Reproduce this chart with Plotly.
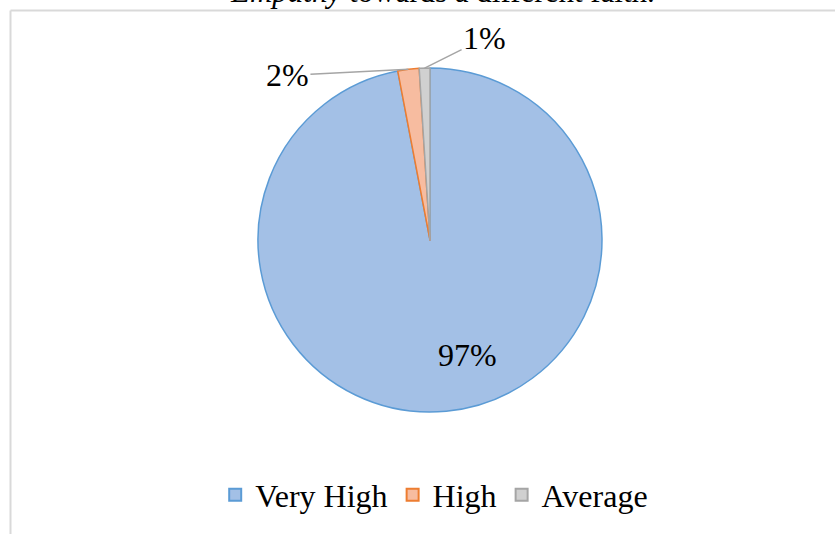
import math
import plotly.graph_objects as go

# ---- data ----
categories = ["Very High", "High", "Average"]
values = [97, 2, 1]
fill_colors = ["#a3c0e6", "#f7bca0", "#d0d0d0"]
line_colors = ["#5b9bd5", "#ed7d31", "#a5a5a5"]
caption_text = "<i>Empathy</i> towards a different faith."

W, H = 835, 534
FONT = "Liberation Serif, Times New Roman, serif"

# pie geometry (pixels)
cx, cy, R = 430, 240, 172
dom_x = [(cx - R) / W, (cx + R) / W]
dom_y = [1 - (cy + R) / H, 1 - (cy - R) / H]

fig = go.Figure()
fig.add_trace(go.Pie(
    labels=categories,
    values=values,
    sort=False,
    direction="clockwise",
    rotation=0,
    textinfo="none",
    hoverinfo="label+percent",
    marker=dict(colors=fill_colors, line=dict(color=line_colors, width=1.5)),
    domain=dict(x=dom_x, y=dom_y),
    showlegend=True,
))

# label placement derived from slice angles
total = sum(values)
cum = 0
annotations = []
label_style = [
    dict(inside=True, r=0.67, xshift=27),
    dict(inside=False, ax=-121, ay=6),
    dict(inside=False, ax=60, ay=-30),
]
for v, st in zip(values, label_style):
    mid = (cum + v / 2) / total * 2 * math.pi
    cum += v
    txt = f"{round(v / total * 100)}%"
    if st["inside"]:
        px = cx + R * st["r"] * math.sin(mid)
        py = cy - R * st["r"] * math.cos(mid)
        annotations.append(dict(
            x=px / W, y=1 - py / H, xref="paper", yref="paper",
            text=txt, showarrow=False, xshift=st["xshift"],
            font=dict(family=FONT, size=32, color="#000000"),
        ))
    else:
        px = cx + R * math.sin(mid)
        py = cy - R * math.cos(mid)
        annotations.append(dict(
            x=px / W, y=1 - py / H, xref="paper", yref="paper",
            text=txt, showarrow=True, arrowhead=0, arrowwidth=1.5,
            arrowcolor="#a5a5a5", ax=st["ax"], ay=st["ay"],
            font=dict(family=FONT, size=32, color="#000000"),
        ))

# clipped caption at the top of the page
annotations.append(dict(
    x=657 / W, y=1, xref="paper", yref="paper",
    xanchor="right", yanchor="middle", yshift=9,
    text=caption_text, showarrow=False,
    font=dict(family=FONT, size=31, color="#000000"),
))

shapes = [
    dict(type="line", xref="paper", yref="paper",
         x0=10.5 / W, x1=1, y0=1 - 10.5 / H, y1=1 - 10.5 / H,
         line=dict(color="#d9d9d9", width=2)),
    dict(type="line", xref="paper", yref="paper",
         x0=10.5 / W, x1=10.5 / W, y0=0, y1=1 - 10.5 / H,
         line=dict(color="#d9d9d9", width=2)),
]

fig.update_layout(
    width=W, height=H,
    margin=dict(l=0, r=0, t=0, b=0),
    paper_bgcolor="white",
    plot_bgcolor="white",
    font=dict(family=FONT, color="#000000"),
    annotations=annotations,
    shapes=shapes,
    legend=dict(
        orientation="h", x=0.52, xanchor="center", y=1 - 495 / H, yanchor="middle",
        font=dict(family=FONT, size=32, color="#000000"),
        itemsizing="constant", traceorder="normal",
    ),
)

fig.write_html("out.html")
